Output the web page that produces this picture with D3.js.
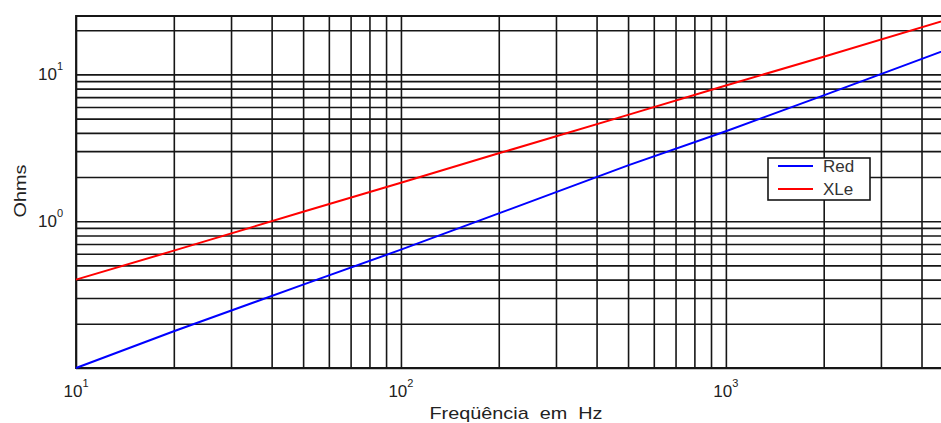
<!DOCTYPE html>
<html>
<head>
<meta charset="utf-8">
<script src="https://cdn.jsdelivr.net/npm/d3@7"></script>
<style>
  html, body { margin: 0; padding: 0; background: #fff; }
  svg { display: block; overflow: hidden; }
  text { font-family: "Liberation Sans", Arial, sans-serif; }
</style>
</head>
<body>
<svg id="chart" width="941" height="423"></svg>
<script>
// Frequency points (Hz) and impedance of each series (Ohms)
const freqHz  = [10, 20, 50, 100, 200, 500, 1000, 2000, 5000];
const redOhms = [0.100, 0.178, 0.37, 0.64, 1.13, 2.4, 4.1, 7.2, 15.3];
const xleOhms = [0.40, 0.63, 1.16, 1.83, 2.9, 5.3, 8.4, 13.2, 24.3];

const seriesNames  = ["Red", "XLe"];
const seriesColors = ["#0000ff", "#ff0000"];

// Axis extents and labelled decades
const xDomain = [10, 5000];
const yDomain = [0.1, 25];
const xDecades = [1, 2, 3];
const yDecades = [0, 1];
const xGrid = [10,20,30,40,50,60,70,80,90,100,200,300,400,500,600,700,800,900,1000,2000,3000,4000,5000];
const yGrid = [0.1,0.2,0.3,0.4,0.5,0.6,0.7,0.8,0.9,1,2,3,4,5,6,7,8,9,10,20];

const xTitle = "Freqüência  em  Hz";
const yTitle = "Ohms";

const svg = d3.select("#chart");
const plot = { left: 76, top: 16, right: 953, bottom: 368 };

const x = d3.scaleLog().domain(xDomain).range([plot.left, plot.right]);
const y = d3.scaleLog().domain(yDomain).range([plot.bottom, plot.top]);

const gridColor = "#161616";

// vertical grid lines
svg.append("g")
  .attr("transform", `translate(0,${plot.bottom})`)
  .call(d3.axisBottom(x).tickValues(xGrid).tickFormat("")
        .tickSize(-(plot.bottom - plot.top)).tickSizeOuter(0))
  .call(g => g.select(".domain").remove())
  .call(g => g.selectAll("line").attr("stroke", gridColor).attr("stroke-width", 1.6));

// horizontal grid lines
svg.append("g")
  .attr("transform", `translate(${plot.left},0)`)
  .call(d3.axisLeft(y).tickValues(yGrid).tickFormat("")
        .tickSize(-(plot.right - plot.left)).tickSizeOuter(0))
  .call(g => g.select(".domain").remove())
  .call(g => g.selectAll("line").attr("stroke", gridColor).attr("stroke-width", 1.6));

// frame
svg.append("path")
  .attr("d", `M${plot.right},${plot.top}H${plot.left}V${plot.bottom}H${plot.right}`)
  .attr("fill", "none").attr("stroke", gridColor).attr("stroke-width", 1.8);

// series
const line = d3.line().x(d => x(d[0])).y(d => y(d[1]));
[redOhms, xleOhms].forEach((vals, i) => {
  svg.append("path")
    .datum(freqHz.map((f, j) => [f, vals[j]]))
    .attr("d", line)
    .attr("fill", "none")
    .attr("stroke", seriesColors[i])
    .attr("stroke-width", 2);
});

// decade tick labels: 10 with superscript exponent
const labelColor = "#222";
svg.append("g").selectAll("text").data(xDecades).join("text")
  .attr("x", d => x(Math.pow(10, d)))
  .attr("y", 397)
  .attr("text-anchor", "middle")
  .attr("fill", labelColor)
  .style("font-size", "17px")
  .each(function (d) {
    const t = d3.select(this);
    t.append("tspan").text("10");
    t.append("tspan").attr("dy", -10).style("font-size", "11px").text(d);
  });

svg.append("g").selectAll("text").data(yDecades).join("text")
  .attr("x", 63)
  .attr("y", d => y(Math.pow(10, d)) + 6)
  .attr("text-anchor", "end")
  .attr("fill", labelColor)
  .style("font-size", "17px")
  .each(function (d) {
    const t = d3.select(this);
    t.append("tspan").text("10");
    t.append("tspan").attr("dy", -10).style("font-size", "11px").text(d);
  });

// axis titles
svg.append("text")
  .attr("x", 516).attr("y", 419)
  .attr("text-anchor", "middle")
  .attr("fill", labelColor)
  .attr("textLength", 173).attr("lengthAdjust", "spacingAndGlyphs")
  .style("font-size", "17px")
  .style("white-space", "pre")
  .text(xTitle);

svg.append("text")
  .attr("transform", "translate(26,191) rotate(-90)")
  .attr("text-anchor", "middle")
  .attr("fill", labelColor)
  .attr("textLength", 53).attr("lengthAdjust", "spacingAndGlyphs")
  .style("font-size", "17px")
  .text(yTitle);

// legend
const legend = svg.append("g").attr("transform", "translate(768,158)");
legend.append("rect")
  .attr("width", 102).attr("height", 42)
  .attr("fill", "#fff").attr("stroke", gridColor).attr("stroke-width", 1.6);
seriesNames.forEach((name, i) => {
  const ly = 8 + i * 23;
  legend.append("line")
    .attr("x1", 10).attr("x2", 45).attr("y1", ly).attr("y2", ly)
    .attr("stroke", seriesColors[i]).attr("stroke-width", 2);
  legend.append("text")
    .attr("x", 55).attr("y", ly + 6)
    .attr("fill", "#333")
    .style("font-size", "17px")
    .text(name);
});
</script>
</body>
</html>
